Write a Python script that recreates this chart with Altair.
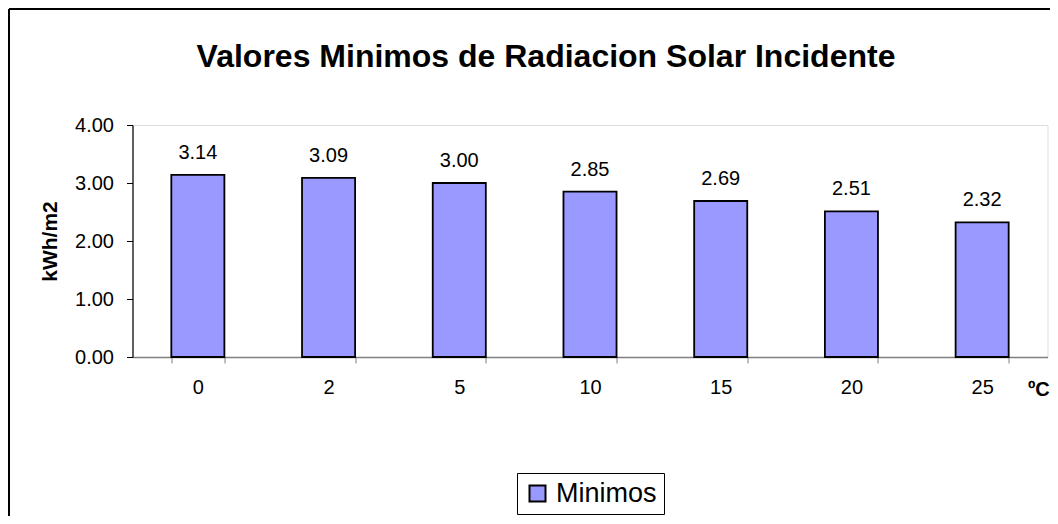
import altair as alt
import pandas as pd

# ---- data ----
temperaturas = ["0", "2", "5", "10", "15", "20", "25"]
minimos = [3.14, 3.09, 3.00, 2.85, 2.69, 2.51, 2.32]
serie = "Minimos"
y_ticks = [0, 1, 2, 3, 4]
titulo = "Valores Minimos de Radiacion Solar Incidente"
y_titulo = "kWh/m2"
x_titulo = "ºC"

df = pd.DataFrame({
    "temp": temperaturas,
    "valor": minimos,
    "serie": [serie] * len(temperaturas),
})

FONT = "Liberation Sans"

x_enc = alt.X(
    "temp:N",
    sort=temperaturas,
    scale=alt.Scale(paddingInner=0.594, paddingOuter=0.297),
    axis=alt.Axis(
        title=x_titulo, titleX=895, titleY=38, titleAlign="left",
        titleBaseline="alphabetic", titleAngle=0, titleFontSize=20,
        titleFontWeight="bold", titleFont=FONT, titleColor="black",
        labelAngle=0, labelFontSize=20, labelFont=FONT, labelColor="black",
        labelPadding=14, tickSize=6, tickBand="extent",
        domainColor="#808080", tickColor="#808080", domainWidth=1.5,
        grid=False,
    ),
)

y_enc = alt.Y(
    "valor:Q",
    scale=alt.Scale(domain=[0, 4], nice=False),
    axis=alt.Axis(
        values=y_ticks, format=".2f", title=y_titulo,
        titleFontSize=21, titleFontWeight="bold", titleFont=FONT,
        titleColor="black", titlePadding=14,
        labelFontSize=20, labelFont=FONT, labelColor="black",
        labelPadding=13, tickSize=6, domainColor="black", tickColor="black",
        domainWidth=1.2, grid=False,
    ),
)

base = alt.Chart(df)

bars = base.mark_bar(stroke="black", strokeWidth=1.8).encode(
    x=x_enc,
    y=y_enc,
    color=alt.Color(
        "serie:N",
        scale=alt.Scale(range=["#9999FF"]),
        legend=alt.Legend(
            title=None, orient="none", legendX=384.5, legendY=348,
            strokeColor="black", fillColor="white", padding=7,
            cornerRadius=0, labelFontSize=27, labelFont=FONT,
            labelColor="black", labelOffset=5, symbolType="square",
            symbolSize=256, symbolStrokeColor="black", symbolStrokeWidth=2,
        ),
    ),
)

labels = base.mark_text(
    dy=-16, baseline="alphabetic", fontSize=20, font=FONT, color="black"
).encode(
    x=alt.X("temp:N", sort=temperaturas),
    y=alt.Y("valor:Q"),
    text=alt.Text("valor:Q", format=".2f"),
)

one_row = pd.DataFrame({"k": [0]})

title_mark = alt.Chart(one_row).mark_text(
    fontSize=32, font=FONT, fontWeight="bold", color="black",
    align="center", baseline="alphabetic",
).encode(
    x=alt.value(413.5), y=alt.value(-58.5), text=alt.value(titulo)
)

frame_top = alt.Chart(one_row).mark_rule(color="black", strokeWidth=2).encode(
    x=alt.value(-123.5), x2=alt.value(950), y=alt.value(-116)
)
frame_left = alt.Chart(one_row).mark_rule(color="black", strokeWidth=2).encode(
    x=alt.value(-123.5), y=alt.value(-116), y2=alt.value(420)
)

chart = alt.layer(bars, labels, title_mark, frame_top, frame_left).properties(
    width=915,
    height=232,
    padding={"left": 124.5, "top": 117, "right": 2.5, "bottom": 159},
    autosize=alt.AutoSizeParams(type="none"),
).configure_view(stroke=None).configure(background="white")

chart.save("out.html", embed_options={"renderer": "svg", "actions": False})
